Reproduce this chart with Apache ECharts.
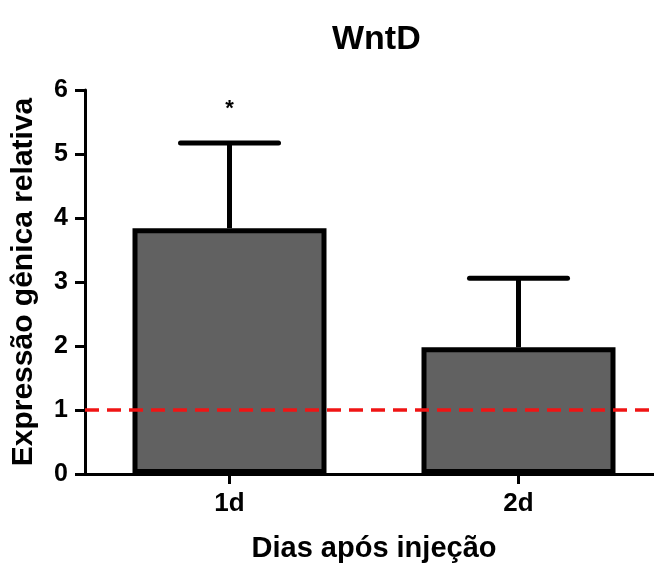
<!DOCTYPE html>
<html lang="pt">
<head>
    <meta charset="UTF-8">
    <title>WntD</title>
    <script src="https://cdnjs.cloudflare.com/ajax/libs/echarts/6.0.0/echarts.min.js"></script>
    <style>
        html, body { margin: 0; padding: 0; background: #fff; }
        #chart { width: 654px; height: 563px; }
    </style>
</head>
<body>
    <div id="chart"></div>
    <script>
        // dados
        const categorias = ['1d', '2d'];
        const medias = [3.84, 1.98];
        const limiteSuperior = [5.17, 3.06];
        const significancia = ['*', ''];
        const referencia = 1;
        const yTicks = [0, 1, 2, 3, 4, 5, 6];

        const fonte = '"Liberation Sans", Arial, sans-serif';

        const chart = echarts.init(document.getElementById('chart'));

        const option = {
            animation: false,
            title: {
                text: 'WntD',
                left: 327,
                top: 18,
                textStyle: { fontFamily: fonte, fontSize: 34, fontWeight: 'bold', color: '#000' }
            },
            grid: { left: 85, right: -9, top: 90, bottom: 89, containLabel: false, outerBoundsMode: 'none' },
            xAxis: {
                type: 'category',
                data: categorias,
                name: 'Dias após injeção',
                nameLocation: 'middle',
                nameGap: 60,
                nameTextStyle: { fontFamily: fonte, fontSize: 29, fontWeight: 'bold', color: '#000' },
                axisLine: { lineStyle: { color: '#000', width: 3 } },
                axisTick: { show: true, inside: false, alignWithLabel: true, length: 10, lineStyle: { color: '#000', width: 3 } },
                axisLabel: { fontFamily: fonte, fontSize: 26, fontWeight: 'bold', color: '#000', margin: 17 }
            },
            yAxis: {
                type: 'value',
                min: yTicks[0],
                max: yTicks[yTicks.length - 1],
                interval: 1,
                name: 'Expressão gênica relativa',
                nameLocation: 'middle',
                nameGap: 46,
                nameTextStyle: { fontFamily: fonte, fontSize: 30, fontWeight: 'bold', color: '#000' },
                axisLine: { show: true, lineStyle: { color: '#000', width: 3 } },
                axisTick: { show: true, inside: false, length: 10, lineStyle: { color: '#000', width: 3 } },
                axisLabel: { fontFamily: fonte, fontSize: 25, fontWeight: 'bold', color: '#000', margin: 17 },
                splitLine: { show: false }
            },
            series: [
                {
                    type: 'bar',
                    data: medias,
                    barWidth: 194,
                    itemStyle: { color: '#616161', borderColor: '#000', borderWidth: 5 },
                    markLine: {
                        silent: true,
                        symbol: 'none',
                        label: { show: false },
                        lineStyle: { color: '#f01414', width: 3.5, type: [14, 8] },
                        data: [{ yAxis: referencia }]
                    },
                    z: 2
                },
                {
                    type: 'custom',
                    data: categorias.map((c, i) => [i, medias[i], limiteSuperior[i]]),
                    renderItem: function (params, api) {
                        const base = api.coord([api.value(0), api.value(1)]);
                        const topo = api.coord([api.value(0), api.value(2)]);
                        const meia = 49;
                        const estilo = { stroke: '#000', lineWidth: 5, lineCap: 'round' };
                        const filhos = [
                            { type: 'line', shape: { x1: base[0], y1: base[1], x2: topo[0], y2: topo[1] }, style: { stroke: '#000', lineWidth: 5 } },
                            { type: 'line', shape: { x1: topo[0] - meia, y1: topo[1], x2: topo[0] + meia, y2: topo[1] }, style: estilo }
                        ];
                        const txt = significancia[params.dataIndex];
                        if (txt) {
                            filhos.push({
                                type: 'text',
                                style: { text: txt, x: topo[0], y: topo[1] - 34, align: 'center', verticalAlign: 'middle', font: 'bold 22px ' + fonte, fill: '#000' }
                            });
                        }
                        return { type: 'group', children: filhos };
                    },
                    z: 3
                }
            ]
        };

        chart.setOption(option);
    </script>
</body>
</html>
